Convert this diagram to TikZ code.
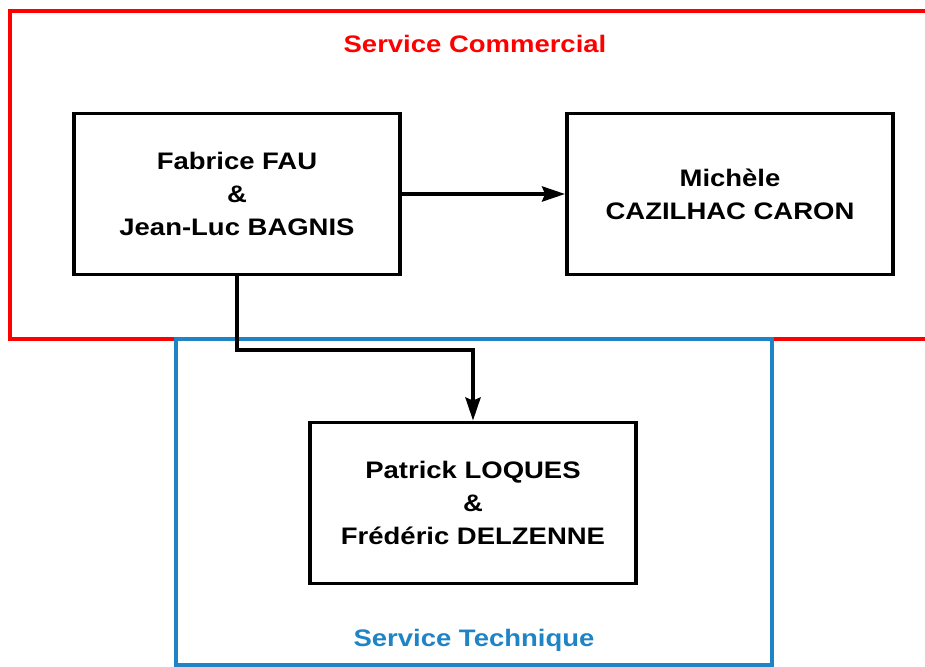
\documentclass[tikz,border=0pt]{standalone}
\usepackage{fontspec}
\setmainfont{Liberation Sans}[FakeStretch=1.15]
\usepackage{xcolor}
\usetikzlibrary{arrows.meta}

\definecolor{commred}{RGB}{255,0,0}
\definecolor{techblue}{RGB}{30,132,198}

\tikzset{
  person/.style={draw=black, line width=2.2pt, minimum width=6.52cm, minimum height=3.22cm,
    align=center, font=\fontsize{13.6pt}{18.7pt}\selectfont\bfseries},
  link/.style={draw=black, line width=2.2pt, -{Stealth[length=0.46cm,width=0.3cm,inset=0.06cm]}},
  service/.style={line width=2.2pt},
  servicelabel/.style={font=\fontsize{13.6pt}{17pt}\selectfont\bfseries}
}

\begin{document}
\begin{tikzpicture}[x=0.02cm, y=-0.02cm]
  % Fix the page size
  \useasboundingbox (0,0) rectangle (925,666);

  % Draw the two services
  \draw[service, commred] (10,11) rectangle (940,339);
  \draw[service, techblue] (176,339) rectangle (772,665);
  \node[servicelabel, text=commred] (commercial) at (475,44) {Service Commercial};
  \node[servicelabel, text=techblue] (technique) at (474,640) {Service Technique};

  % Draw the people
  \node[person] (fabrice) at (237,194) {Fabrice FAU\\\&\\Jean-Luc BAGNIS};
  \node[person] (michele) at (730,194) {Michèle\\CAZILHAC CARON};
  \node[person] (patrick) at (473,503) {Patrick LOQUES\\\&\\Frédéric DELZENNE};

  % Draw the links
  \coordinate (elbow) at (237,350);
  \draw[link] (fabrice.east) -- (michele.west);
  \draw[link] (fabrice.south) -- (elbow) -| (patrick.north);
\end{tikzpicture}
\end{document}
